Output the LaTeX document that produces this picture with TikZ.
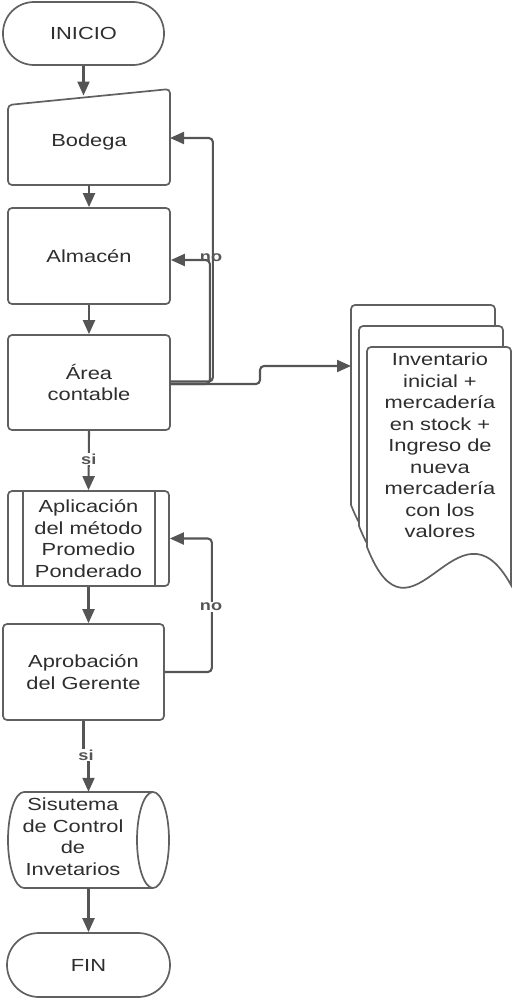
\documentclass[tikz,border=0pt]{standalone}
\usepackage{fontspec}
\setmainfont{Liberation Sans}[FakeStretch=1.25]
\usetikzlibrary{arrows.meta}
\definecolor{linec}{HTML}{555555}
\definecolor{boxc}{HTML}{606060}
\definecolor{txtc}{HTML}{2e2e2e}
\newcommand\mainfs{\fontsize{17.5}{21.5}\selectfont}
\newcommand\lblfs{\fontsize{14.5}{16}\selectfont\bfseries}
\begin{document}
\begin{tikzpicture}[x=1pt,y=-1pt,
 shapeline/.style={draw=boxc, line width=1.7pt, fill=white},
 box/.style={shapeline, rounded corners=4pt, inner sep=0pt, align=center, text=txtc, font=\mainfs},
 txt/.style={inner sep=0pt, align=center, text=txtc, font=\mainfs},
 conn/.style={draw=linec, line width=2.1pt, -{Triangle[length=14pt,width=12pt]}},
 lbl/.style={font=\lblfs, text=linec, inner sep=1pt},
]
\useasboundingbox (0,0) rectangle (513,998);

% INICIO
\node[box, rounded corners=31pt, minimum width=161pt, minimum height=63pt] (inicio) at (83.5,33.5) {INICIO};

% Bodega (manual input)
\node[inner sep=0pt, minimum width=162pt, minimum height=96pt] (bodega) at (89,137) {};
\draw[shapeline, rounded corners=4pt] (89,185) -- (8,185) -- (8,105) -- (170,89) -- (170,185) -- cycle;
\node[txt] (bodegatxt) at (89,142) {Bodega};
\coordinate (bodegain) at (83.5,95.5);
\coordinate (bodegaR) at (170,138);

% Almacen
\node[box, minimum width=162pt, minimum height=96pt] (almacen) at (89,256) {Almacén};

% Area contable
\node[box, minimum width=162pt, minimum height=95pt] (area) at (89,382.5) {Área\\contable};

% Aplicacion (predefined process)
\node[box, minimum width=161pt, minimum height=95pt] (aplic) at (88.5,538.5) {Aplicación\\del método\\Promedio\\Ponderado};
\draw[draw=boxc, line width=1.7pt] ([xshift=16pt]aplic.north west) -- ([xshift=16pt]aplic.south west);
\draw[draw=boxc, line width=1.7pt] ([xshift=-15pt]aplic.north east) -- ([xshift=-15pt]aplic.south east);

% Aprobacion
\node[box, minimum width=161pt, minimum height=96pt] (aprob) at (83.5,672) {Aprobación\\del Gerente};

% Cylinder
\node[inner sep=0pt, minimum width=161pt, minimum height=96pt] (cyl) at (88.5,840) {};
\draw[shapeline] (24,792) -- (153,792) arc[start angle=-90, end angle=90, x radius=16, y radius=48]
  -- (24,888) arc[start angle=90, end angle=270, x radius=16, y radius=48] -- cycle;
\draw[draw=boxc, line width=1.7pt] (153,792) arc[start angle=-90, end angle=-270, x radius=16, y radius=48];
\node[txt] (cyltxt) at (73,836.5) {Sisutema\\de Control\\de\\Invetarios};

% FIN
\node[box, rounded corners=32pt, minimum width=163pt, minimum height=64pt] (fin) at (88.5,965) {FIN};

% Multi-document
\foreach \X/\Y in {351/305, 359/326, 367/347}{
  \draw[shapeline] (\X,\Y+200) -- (\X,\Y+100) [rounded corners=4pt] -- (\X,\Y) -- (\X+144,\Y) -- (\X+144,\Y+100)
    [sharp corners] -- (\X+144,\Y+238) .. controls (\X+90,\Y+140) and (\X+45,\Y+315) .. (\X,\Y+200) -- cycle;
}
\node[txt] (docs) at (440,445.5) {Inventario\\inicial +\\mercadería\\en stock +\\Ingreso de\\nueva\\mercadería\\con los\\valores};
\coordinate (docin) at (351,366);

% Connectors
\draw[conn] (inicio.south) -- (bodegain);
\draw[conn] (bodega.south) -- (almacen.north);
\draw[conn] (almacen.south) -- (area.north);
\draw[conn] (area.south) -- node[lbl, fill=white, pos=0.475] (si1) {si} (aplic.north);
\draw[conn] (aplic.south) -- (aplic.south |- aprob.north);
\draw[conn, rounded corners=4pt] (aprob.east) -- ++(47,0) |- (aplic.east);
\node[lbl, fill=white] (no2) at (211,607) {no};

\draw[conn, rounded corners=4pt] ([yshift=1pt]area.east) -- ++(42,0) |- (bodegaR);
\draw[conn, rounded corners=4pt] ([yshift=-1.5pt]area.east) -- ++(39,0) |- ([yshift=-4pt]almacen.east);
\node[lbl] (no1) at (211,258) {no};
\draw[conn, rounded corners=4pt] ([yshift=-1.5pt]area.east) -- (260,384) -- (260,366) -- (docin);

\coordinate (jog) at (83.5,755);
\draw[conn] (aprob.south) -- (jog) -| (cyl.north);
\node[lbl, fill=white] (si2) at (86,755) {si};
\draw[conn] (cyl.south) -- (fin.north);
\end{tikzpicture}
\end{document}
